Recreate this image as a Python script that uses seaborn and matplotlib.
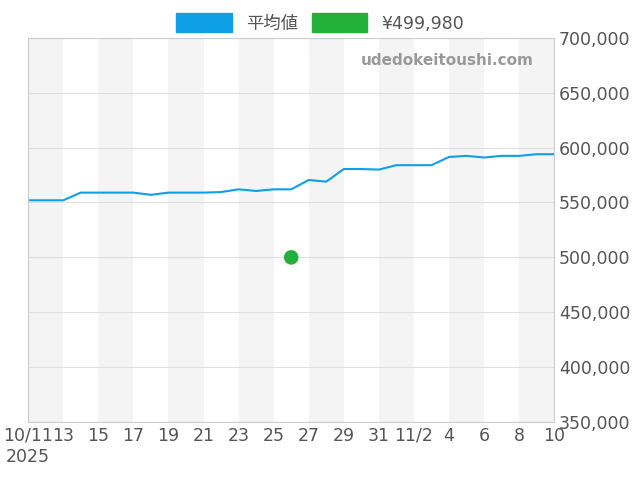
import matplotlib
matplotlib.use("Agg")
import matplotlib.pyplot as plt
import seaborn as sns
import pandas as pd
import numpy as np
from matplotlib.patches import Patch

dates = pd.date_range("2025-10-11", "2025-11-10", freq="D")
avg = [552000, 552000, 552000, 559000, 559000, 559000, 559000, 557000, 559000, 559000,
       559000, 559500, 562000, 560500, 562000, 562000, 570500, 569000, 580500, 580500,
       580000, 584000, 584000, 584000, 591500, 592500, 591000, 592500, 592500, 594000, 594000]
point_date = pd.Timestamp("2025-10-26")
point_val = 499980

sns.set_style("white")
plt.rcParams['font.family'] = ['DejaVu Sans', 'Noto Sans CJK JP']

fig, ax = plt.subplots(figsize=(6.4, 4.8), dpi=100)
fig.subplots_adjust(left=0.044, right=0.866, top=0.921, bottom=0.121)

for i in range(0, 30, 4):
    ax.axvspan(dates[i], dates[min(i + 2, 30)], color="#f4f4f4", zorder=0, lw=0)

df = pd.DataFrame({"date": dates, "v": avg})
sns.lineplot(data=df, x="date", y="v", ax=ax, color="#0ea0e6", lw=1.5)
sns.scatterplot(x=[point_date], y=[point_val], ax=ax, color="#22b03a", s=110, zorder=5, edgecolor="none")

ax.set_xlim(dates[0], dates[-1])
ax.set_ylim(350000, 700000)
ax.yaxis.tick_right()
ax.set_yticks(np.arange(350000, 700001, 50000))
ax.yaxis.set_major_formatter(matplotlib.ticker.FuncFormatter(lambda v, p: f"{int(v):,}"))
ax.grid(axis="y", color="#e0e0e0", lw=0.8)
ticks = dates[::2]
labels = []
for d in ticks:
    if d == dates[0]:
        labels.append("10/11\n2025")
    elif d.day == 2 and d.month == 11:
        labels.append("11/2")
    else:
        labels.append(str(d.day))
ax.set_xticks(ticks)
ax.set_xticklabels(labels)
ax.tick_params(labelsize=12.5, colors="#555555", length=0)
for s in ax.spines.values():
    s.set_color("#cccccc")
ax.set_xlabel("")
ax.set_ylabel("")
ax.text(0.96, 0.94, "udedokeitoushi.com", transform=ax.transAxes, ha="right", va="center",
        color="#999999", fontsize=11, fontweight="bold")

handles = [Patch(color="#0ea0e6"), Patch(color="#22b03a")]
fig.legend(handles, ["平均値", "¥499,980"], loc="upper center", bbox_to_anchor=(0.5, 1.005),
           ncol=2, frameon=False, fontsize=12.5, handlelength=3.2, handleheight=1.3,
           labelcolor="#555555", columnspacing=0.8)
fig.savefig("out.png", dpi=100)
